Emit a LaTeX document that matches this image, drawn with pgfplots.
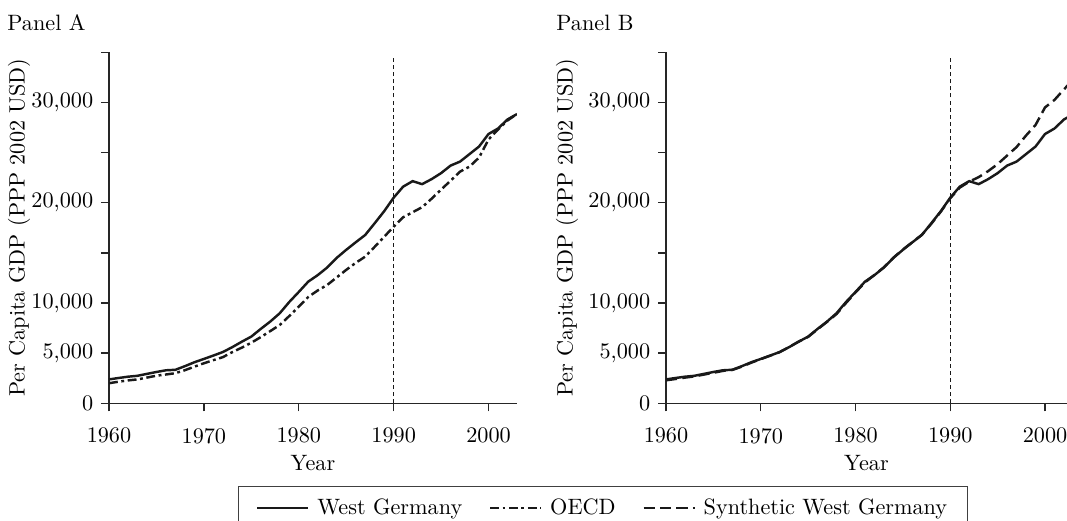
\documentclass[border=0pt]{standalone}
\usepackage{pgfplots}
\pgfplotsset{compat=1.18}
\usepackage{pgfplotstable}

\pgfplotstableread{
year wg oecd synth
1960 2380 2000 2290
1961 2520 2150 2420
1962 2650 2280 2560
1963 2740 2380 2680
1964 2930 2560 2860
1965 3120 2750 3040
1966 3290 2870 3230
1967 3340 3000 3330
1968 3700 3300 3650
1969 4090 3650 4050
1970 4420 3990 4400
1971 4760 4300 4750
1972 5110 4600 5100
1973 5600 5100 5620
1974 6140 5550 6150
1975 6650 6040 6620
1976 7420 6600 7380
1977 8150 7200 8120
1978 8980 7810 8900
1979 10100 8700 10000
1980 11100 9630 11050
1981 12130 10600 12050
1982 12780 11250 12800
1983 13540 11800 13560
1984 14500 12550 14520
1985 15300 13300 15330
1986 16050 14000 16070
1987 16780 14620 16800
1988 17950 15600 17900
1989 19150 16600 19100
1990 20500 17610 20450
1991 21600 18550 21500
1992 22150 19050 22100
1993 21850 19550 22550
1994 22350 20400 23150
1995 22950 21300 23850
1996 23700 22200 24700
1997 24100 23100 25550
1998 24850 23600 26700
1999 25600 24500 27750
2000 26850 26300 29500
2001 27400 27300 30250
2002 28300 28200 31300
2003 28840 28850 32300
}\gdpdata

\pgfplotsset{
  panel/.style={
    scale only axis,
    height=157.95pt,
    xmin=1960, ymin=0, ymax=35000,
    enlargelimits=false,
    scaled y ticks=false, scaled x ticks=false,
    axis x line=bottom, axis y line=left,
    axis line style={-, line width=0.6pt, black!85},
    tick align=outside,
    major tick length=3.6pt,
    tick style={line width=0.6pt, black!85},
    xtick={1960,1970,1980,1990,2000},
    xticklabels={1960,1970,1980,1990,2000},
    xticklabel shift=4pt,
    ytick={0,5000,10000,15000,20000,25000,30000,35000},
    yticklabels={0,{5,000},{10,000},,{20,000},,{30,000},},
    xlabel={Year},
    ylabel={Per Capita GDP (PPP 2002 USD)},
    xlabel style={at={(axis description cs:0.5,-0.1715)}, anchor=center},
    clip=true,
  },
  wgline/.style={black!90, line width=1.1pt},
  oecdline/.style={black!90, line width=1.1pt, dash pattern=on 4pt off 1.6pt on 1.3pt off 1.6pt},
  synline/.style={black!90, line width=1.1pt, dash pattern=on 5pt off 2.4pt},
  tline/.style={black!90, line width=0.5pt, dash pattern=on 1.8pt off 1.4pt},
}

\begin{document}
\begin{tikzpicture}
\useasboundingbox (0pt,0pt) rectangle (480.15pt,234.45pt);

\node[anchor=base west, inner sep=0pt] at (3.15pt,220.5pt) {Panel A};
\node[anchor=base west, inner sep=0pt] at (250.2pt,220.5pt) {Panel B};

\begin{axis}[panel,
  at={(49.05pt,52.97pt)}, anchor=south west,
  width=183.6pt, xmax=2003,
  ylabel style={at={(axis description cs:-0.2206,0.5)}, anchor=center},
]
\addplot[tline] coordinates {(1990,0) (1990,34700)};
\addplot[oecdline] table[x=year, y=oecd] {\gdpdata};
\addplot[wgline] table[x=year, y=wg] {\gdpdata};
\end{axis}

\begin{axis}[panel,
  at={(299.7pt,52.97pt)}, anchor=south west,
  width=180.45pt, xmax=2002.32,
  ylabel style={at={(axis description cs:-0.2469,0.5)}, anchor=center},
]
\addplot[tline] coordinates {(1990,0) (1990,34700)};
\addplot[synline] table[x=year, y=synth] {\gdpdata};
\addplot[wgline] table[x=year, y=wg] {\gdpdata};
\end{axis}

% legend built on panel A's axes
\begin{axis}[
  at={(49.05pt,52.97pt)}, anchor=south west,
  scale only axis, width=183.6pt, height=157.95pt,
  xmin=1960, xmax=2003, ymin=0, ymax=35000,
  hide axis,
  legend columns=3,
  legend style={
    at={(axis description cs:0.3154,-0.2348)}, anchor=north west,
    draw=black!75, line width=0.6pt,
    inner xsep=8pt, inner ysep=4.5pt,
    nodes={inner sep=1pt},
    /tikz/every odd column/.append style={column sep=2.5pt},
    /tikz/every even column/.append style={column sep=11pt},
  },
  legend image code/.code={\draw[#1] (0pt,0pt) -- (23pt,0pt);},
]
\addlegendimage{wgline}
\addlegendentry{West Germany}
\addlegendimage{oecdline}
\addlegendentry{OECD}
\addlegendimage{synline}
\addlegendentry{Synthetic West Germany}
\end{axis}
\end{tikzpicture}
\end{document}
